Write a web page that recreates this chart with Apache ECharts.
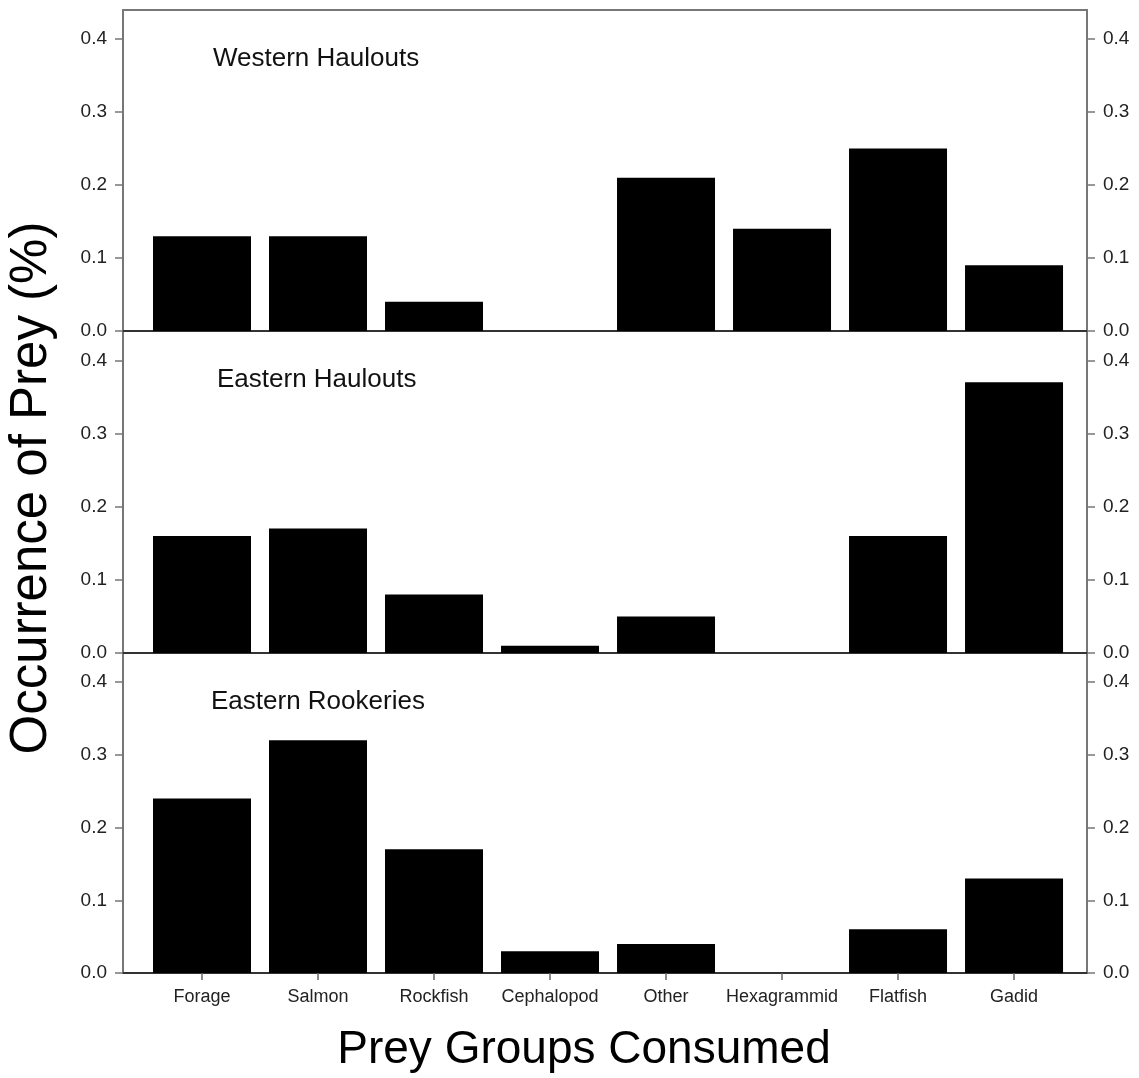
<!DOCTYPE html>
<html>
<head>
<meta charset="utf-8">
<script src="https://cdn.jsdelivr.net/npm/echarts@6/dist/echarts.min.js"></script>
<style>
html,body{margin:0;padding:0;background:#fff;}
#chart{width:1139px;height:1078px;}
</style>
</head>
<body>
<div id="chart"></div>
<script>
// ---- data ----
const categories = ['Forage','Salmon','Rockfish','Cephalopod','Other','Hexagrammid','Flatfish','Gadid'];
const panelTitles = ['Western Haulouts','Eastern Haulouts','Eastern Rookeries'];
const westernHaulouts = [0.13, 0.13, 0.04, 0.00, 0.21, 0.14, 0.25, 0.09];
const easternHaulouts = [0.16, 0.17, 0.08, 0.01, 0.05, 0.00, 0.16, 0.37];
const easternRookeries = [0.24, 0.32, 0.17, 0.03, 0.04, 0.00, 0.06, 0.13];
const yTicks = [0, 0.1, 0.2, 0.3, 0.4];
const yTitle = 'Occurrence of Prey (%)';
const xTitle = 'Prey Groups Consumed';

const panels = [westernHaulouts, easternHaulouts, easternRookeries];
const FONT = '"Liberation Sans", Arial, Helvetica, sans-serif';
const catIdx = categories.map((c, i) => i);

const gridTops = [10, 331, 653];
const gridHeights = [321, 322, 320];
const XMIN = -0.681, XMAX = 7.629, YMAX = 0.44;

const grids = [], xAxes = [], yAxes = [], series = [];
panels.forEach((vals, p) => {
  grids.push({left: 123, right: 52, top: gridTops[p], height: gridHeights[p], containLabel: false});
  const isBottom = p === panels.length - 1;
  xAxes.push({
    type: 'value', gridIndex: p, min: XMIN, max: XMAX, position: 'bottom',
    splitLine: {show: false},
    axisLine: {show: true, onZero: false, lineStyle: {color: '#333', width: 2}},
    axisTick: {show: isBottom, customValues: catIdx, length: 7, lineStyle: {color: '#666', width: 1.5}},
    axisLabel: {show: isBottom, customValues: catIdx, margin: 15,
      formatter: v => categories[Math.round(v)] || '',
      fontFamily: FONT, fontSize: 18, color: '#222'}
  });
  ['left', 'right'].forEach(pos => {
    yAxes.push({
      type: 'value', gridIndex: p, min: 0, max: YMAX, position: pos,
      splitLine: {show: false},
      axisLine: {show: true, onZero: false, lineStyle: {color: '#777', width: 2}},
      axisTick: {show: true, customValues: yTicks, length: 8, lineStyle: {color: '#777', width: 1.5}},
      axisLabel: {show: true, customValues: yTicks, margin: 16,
        formatter: v => v.toFixed(1), fontFamily: FONT, fontSize: 19, color: '#222'}
    });
  });
  series.push({
    type: 'bar', xAxisIndex: p, yAxisIndex: p * 2,
    data: vals.map((v, i) => [i, v]),
    barWidth: 98,
    itemStyle: {color: '#000'},
    silent: true, animation: false
  });
});
// top frame line of the first panel
xAxes.push({
  type: 'value', gridIndex: 0, min: XMIN, max: XMAX, position: 'top',
  splitLine: {show: false},
  axisLine: {show: true, onZero: false, lineStyle: {color: '#777', width: 2}},
  axisTick: {show: false}, axisLabel: {show: false}
});

const titlePos = [[213, 59], [217, 380], [211, 702]];
const graphics = panelTitles.map((t, i) => ({
  type: 'text', left: titlePos[i][0], top: titlePos[i][1] - 13,
  style: {text: t, font: '26px ' + FONT, fill: '#111', textVerticalAlign: 'top'}
}));
graphics.push({
  type: 'text', x: 32, y: 488, rotation: Math.PI / 2,
  style: {text: yTitle, font: '51px ' + FONT, fill: '#000', align: 'center', verticalAlign: 'middle'}
});
graphics.push({
  type: 'text', x: 584, y: 1050,
  style: {text: xTitle, font: '46px ' + FONT, fill: '#000', align: 'center', verticalAlign: 'middle'}
});

const chart = echarts.init(document.getElementById('chart'), null, {renderer: 'canvas'});
chart.setOption({
  animation: false,
  backgroundColor: '#fff',
  grid: grids,
  xAxis: xAxes,
  yAxis: yAxes,
  series: series,
  graphic: graphics
});
</script>
</body>
</html>
